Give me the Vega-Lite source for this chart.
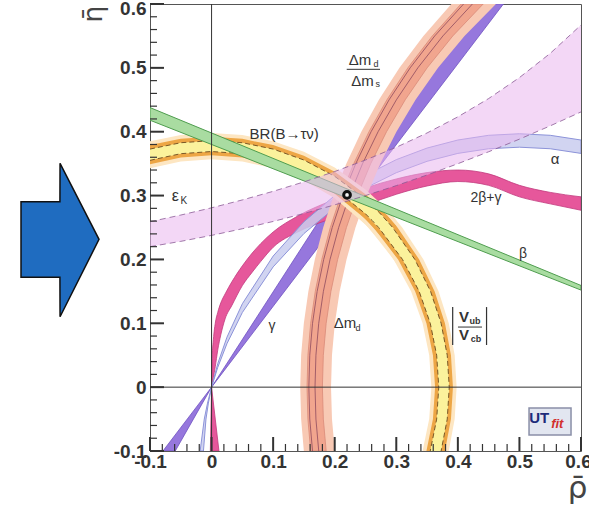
{
  "$schema": "https://vega.github.io/schema/vega-lite/v6.json",
  "autosize": {"type": "none"},
  "padding": {"left": 150, "top": 4, "right": 8, "bottom": 56},
  "width": 431,
  "height": 447,
  "background": "white",
  "config": {"view": {"stroke": "#555", "strokeWidth": 1}, "font": "Liberation Sans"},
  "data": {"values": [{}]},
  "datasets": {
    "arrow": [
      {"rho": -0.3095, "hi": 0.2903, "lo": 0.1719},
      {"rho": -0.2463, "hi": 0.2903, "lo": 0.1719},
      {"rho": -0.2461, "hi": 0.3505, "lo": 0.1102},
      {"rho": -0.1828, "hi": 0.2314, "lo": 0.2314}
    ],
    "gamma": [
      {"eta": -0.1, "a": -0.059, "b": -0.079},
      {"eta": 0, "a": 0, "b": 0},
      {"eta": 0.6, "a": 0.402, "b": 0.474}
    ],
    "tbg": [
      {"rho": 0, "hi": 0, "lo": 0},
      {"rho": 0.001, "hi": 0.045, "lo": 0.005},
      {"rho": 0.003, "hi": 0.075, "lo": 0.015},
      {"rho": 0.006, "hi": 0.1, "lo": 0.032},
      {"rho": 0.01, "hi": 0.117, "lo": 0.058},
      {"rho": 0.015, "hi": 0.132, "lo": 0.082},
      {"rho": 0.022, "hi": 0.146, "lo": 0.107},
      {"rho": 0.033, "hi": 0.165, "lo": 0.128},
      {"rho": 0.05, "hi": 0.19, "lo": 0.159},
      {"rho": 0.066, "hi": 0.21, "lo": 0.18},
      {"rho": 0.08, "hi": 0.225, "lo": 0.197},
      {"rho": 0.1, "hi": 0.243, "lo": 0.219},
      {"rho": 0.14, "hi": 0.268, "lo": 0.243},
      {"rho": 0.2, "hi": 0.294, "lo": 0.266},
      {"rho": 0.25, "hi": 0.312, "lo": 0.285},
      {"rho": 0.3, "hi": 0.326, "lo": 0.302},
      {"rho": 0.35, "hi": 0.336, "lo": 0.315},
      {"rho": 0.4, "hi": 0.34, "lo": 0.322},
      {"rho": 0.45, "hi": 0.334, "lo": 0.316},
      {"rho": 0.5, "hi": 0.316, "lo": 0.298},
      {"rho": 0.55, "hi": 0.305, "lo": 0.287},
      {"rho": 0.6, "hi": 0.298, "lo": 0.277}
    ],
    "tbgLow": [
      {"eta": -0.1, "a": -0.002, "b": 0.012},
      {"eta": -0.05, "a": -0.001, "b": 0.006},
      {"eta": 0, "a": 0, "b": 0}
    ],
    "alpha": [
      {"rho": 0, "hi": 0, "lo": 0},
      {"rho": 0.01, "hi": 0.03668, "lo": 0.0309},
      {"rho": 0.025, "hi": 0.07826, "lo": 0.06814},
      {"rho": 0.05, "hi": 0.13058, "lo": 0.11687},
      {"rho": 0.1, "hi": 0.20526, "lo": 0.18832},
      {"rho": 0.15, "hi": 0.25903, "lo": 0.24052},
      {"rho": 0.2, "hi": 0.30005, "lo": 0.28061},
      {"rho": 0.25, "hi": 0.33184, "lo": 0.31179},
      {"rho": 0.3, "hi": 0.35626, "lo": 0.33579},
      {"rho": 0.35, "hi": 0.37442, "lo": 0.35367},
      {"rho": 0.4, "hi": 0.38698, "lo": 0.36605},
      {"rho": 0.45, "hi": 0.39438, "lo": 0.37334},
      {"rho": 0.5, "hi": 0.39682, "lo": 0.37575},
      {"rho": 0.55, "hi": 0.39438, "lo": 0.37334},
      {"rho": 0.6, "hi": 0.38698, "lo": 0.36605}
    ],
    "alphaLow": [
      {"eta": -0.1, "a": -0.0132, "b": -0.0186},
      {"eta": -0.05, "a": -0.00908, "b": -0.01184},
      {"eta": -0.025, "a": -0.00518, "b": -0.00658},
      {"eta": 0, "a": 0, "b": 0}
    ],
    "dm": [
      {"eta": -0.1, "l1": 0.14986, "d1": 0.16094, "s1": 0.16396, "s2": 0.17403, "d2": 0.18612, "l2": 0.20023},
      {"eta": -0.05, "l1": 0.14546, "d1": 0.15648, "s1": 0.15949, "s2": 0.1695, "d2": 0.18153, "l2": 0.19555},
      {"eta": 0, "l1": 0.144, "d1": 0.155, "s1": 0.158, "s2": 0.168, "d2": 0.18, "l2": 0.194},
      {"eta": 0.05, "l1": 0.14546, "d1": 0.15648, "s1": 0.15949, "s2": 0.1695, "d2": 0.18153, "l2": 0.19555},
      {"eta": 0.1, "l1": 0.14986, "d1": 0.16094, "s1": 0.16396, "s2": 0.17403, "d2": 0.18612, "l2": 0.20023},
      {"eta": 0.15, "l1": 0.15724, "d1": 0.16842, "s1": 0.17147, "s2": 0.18163, "d2": 0.19383, "l2": 0.20808},
      {"eta": 0.2, "l1": 0.16769, "d1": 0.17901, "s1": 0.1821, "s2": 0.1924, "d2": 0.20476, "l2": 0.21921},
      {"eta": 0.25, "l1": 0.18132, "d1": 0.19283, "s1": 0.19597, "s2": 0.20645, "d2": 0.21904, "l2": 0.23375},
      {"eta": 0.3, "l1": 0.19829, "d1": 0.21005, "s1": 0.21326, "s2": 0.22397, "d2": 0.23685, "l2": 0.25191},
      {"eta": 0.35, "l1": 0.21882, "d1": 0.23089, "s1": 0.23419, "s2": 0.2452, "d2": 0.25845, "l2": 0.27396},
      {"eta": 0.4, "l1": 0.2432, "d1": 0.25567, "s1": 0.25908, "s2": 0.27047, "d2": 0.28418, "l2": 0.30026},
      {"eta": 0.45, "l1": 0.27183, "d1": 0.28479, "s1": 0.28833, "s2": 0.3002, "d2": 0.31451, "l2": 0.33132},
      {"eta": 0.5, "l1": 0.30521, "d1": 0.31881, "s1": 0.32253, "s2": 0.335, "d2": 0.35008, "l2": 0.36783},
      {"eta": 0.55, "l1": 0.34408, "d1": 0.35849, "s1": 0.36245, "s2": 0.37572, "d2": 0.39181, "l2": 0.41082},
      {"eta": 0.6, "l1": 0.38948, "d1": 0.405, "s1": 0.40927, "s2": 0.42361, "d2": 0.44107, "l2": 0.46182}
    ],
    "vubTop": [
      {"rho": -0.1, "g1": 0.34271, "o1": 0.34896, "y1": 0.35519, "y2": 0.37282, "o2": 0.37903, "g2": 0.38523},
      {"rho": -0.05, "g1": 0.35348, "o1": 0.35954, "y1": 0.3656, "y2": 0.38275, "o2": 0.3888, "g2": 0.39485},
      {"rho": 0, "g1": 0.357, "o1": 0.363, "y1": 0.369, "y2": 0.386, "o2": 0.392, "g2": 0.398},
      {"rho": 0.05, "g1": 0.35348, "o1": 0.35954, "y1": 0.3656, "y2": 0.38275, "o2": 0.3888, "g2": 0.39485},
      {"rho": 0.1, "g1": 0.34271, "o1": 0.34896, "y1": 0.35519, "y2": 0.37282, "o2": 0.37903, "g2": 0.38523},
      {"rho": 0.15, "g1": 0.32396, "o1": 0.33056, "y1": 0.33714, "y2": 0.35566, "o2": 0.36217, "g2": 0.36865},
      {"rho": 0.2, "g1": 0.29572, "o1": 0.30293, "y1": 0.3101, "y2": 0.33015, "o2": 0.33714, "g2": 0.3441},
      {"rho": 0.25, "g1": 0.25485, "o1": 0.26319, "y1": 0.27141, "y2": 0.2941, "o2": 0.30193, "g2": 0.30968},
      {"rho": 0.28, "g1": 0.22147, "o1": 0.23102, "y1": 0.24034, "y2": 0.2657, "o2": 0.27434, "g2": 0.28285},
      {"rho": 0.3, "g1": 0.19352, "o1": 0.20437, "y1": 0.21485, "y2": 0.24289, "o2": 0.25232, "g2": 0.26154}
    ],
    "vubRight": [
      {"eta": -0.1, "g1": 0.34271, "o1": 0.34896, "y1": 0.35519, "y2": 0.37282, "o2": 0.37903, "g2": 0.38523},
      {"eta": -0.05, "g1": 0.35348, "o1": 0.35954, "y1": 0.3656, "y2": 0.38275, "o2": 0.3888, "g2": 0.39485},
      {"eta": 0, "g1": 0.357, "o1": 0.363, "y1": 0.369, "y2": 0.386, "o2": 0.392, "g2": 0.398},
      {"eta": 0.05, "g1": 0.35348, "o1": 0.35954, "y1": 0.3656, "y2": 0.38275, "o2": 0.3888, "g2": 0.39485},
      {"eta": 0.1, "g1": 0.34271, "o1": 0.34896, "y1": 0.35519, "y2": 0.37282, "o2": 0.37903, "g2": 0.38523},
      {"eta": 0.15, "g1": 0.32396, "o1": 0.33056, "y1": 0.33714, "y2": 0.35566, "o2": 0.36217, "g2": 0.36865},
      {"eta": 0.2, "g1": 0.29572, "o1": 0.30293, "y1": 0.3101, "y2": 0.33015, "o2": 0.33714, "g2": 0.3441},
      {"eta": 0.25, "g1": 0.25485, "o1": 0.26319, "y1": 0.27141, "y2": 0.2941, "o2": 0.30193, "g2": 0.30968},
      {"eta": 0.27, "g1": 0.23356, "o1": 0.24263, "y1": 0.25152, "y2": 0.27586, "o2": 0.28419, "g2": 0.29241}
    ],
    "vubEdge": [
      {"ring": "in", "i": 1, "rho": -0.1, "eta": 0.35519},
      {"ring": "in", "i": 2, "rho": -0.05, "eta": 0.3656},
      {"ring": "in", "i": 3, "rho": 0, "eta": 0.369},
      {"ring": "in", "i": 4, "rho": 0.05, "eta": 0.3656},
      {"ring": "in", "i": 5, "rho": 0.1, "eta": 0.35519},
      {"ring": "in", "i": 6, "rho": 0.15, "eta": 0.33714},
      {"ring": "in", "i": 7, "rho": 0.2, "eta": 0.3101},
      {"ring": "in", "i": 8, "rho": 0.25, "eta": 0.27141},
      {"ring": "in", "i": 9, "rho": 0.26092, "eta": 0.26092},
      {"ring": "in", "i": 10, "rho": 0.27141, "eta": 0.25},
      {"ring": "in", "i": 11, "rho": 0.3101, "eta": 0.2},
      {"ring": "in", "i": 12, "rho": 0.33714, "eta": 0.15},
      {"ring": "in", "i": 13, "rho": 0.35519, "eta": 0.1},
      {"ring": "in", "i": 14, "rho": 0.3656, "eta": 0.05},
      {"ring": "in", "i": 15, "rho": 0.369, "eta": 0},
      {"ring": "in", "i": 16, "rho": 0.3656, "eta": -0.05},
      {"ring": "in", "i": 17, "rho": 0.35519, "eta": -0.1},
      {"ring": "out", "i": 1, "rho": -0.1, "eta": 0.37282},
      {"ring": "out", "i": 2, "rho": -0.05, "eta": 0.38275},
      {"ring": "out", "i": 3, "rho": 0, "eta": 0.386},
      {"ring": "out", "i": 4, "rho": 0.05, "eta": 0.38275},
      {"ring": "out", "i": 5, "rho": 0.1, "eta": 0.37282},
      {"ring": "out", "i": 6, "rho": 0.15, "eta": 0.35566},
      {"ring": "out", "i": 7, "rho": 0.2, "eta": 0.33015},
      {"ring": "out", "i": 8, "rho": 0.25, "eta": 0.2941},
      {"ring": "out", "i": 9, "rho": 0.27294, "eta": 0.27294},
      {"ring": "out", "i": 10, "rho": 0.2941, "eta": 0.25},
      {"ring": "out", "i": 11, "rho": 0.33015, "eta": 0.2},
      {"ring": "out", "i": 12, "rho": 0.35566, "eta": 0.15},
      {"ring": "out", "i": 13, "rho": 0.37282, "eta": 0.1},
      {"ring": "out", "i": 14, "rho": 0.38275, "eta": 0.05},
      {"ring": "out", "i": 15, "rho": 0.386, "eta": 0},
      {"ring": "out", "i": 16, "rho": 0.38275, "eta": -0.05},
      {"ring": "out", "i": 17, "rho": 0.37282, "eta": -0.1}
    ],
    "beta": [
      {"rho": -0.1, "hi": 0.4378, "lo": 0.418},
      {"rho": 0.6, "hi": 0.1592, "lo": 0.152}
    ],
    "epsK": [
      {"rho": -0.1, "lo": 0.22001, "hi": 0.25904},
      {"rho": -0.05, "lo": 0.22832, "hi": 0.2695},
      {"rho": 0, "lo": 0.23766, "hi": 0.28084},
      {"rho": 0.05, "lo": 0.24805, "hi": 0.29317},
      {"rho": 0.1, "lo": 0.25947, "hi": 0.30663},
      {"rho": 0.15, "lo": 0.27194, "hi": 0.32139},
      {"rho": 0.2, "lo": 0.28545, "hi": 0.33765},
      {"rho": 0.25, "lo": 0.3, "hi": 0.35564},
      {"rho": 0.3, "lo": 0.31559, "hi": 0.37565},
      {"rho": 0.35, "lo": 0.33222, "hi": 0.39804},
      {"rho": 0.4, "lo": 0.34989, "hi": 0.42328},
      {"rho": 0.45, "lo": 0.36861, "hi": 0.45194},
      {"rho": 0.5, "lo": 0.38836, "hi": 0.48475},
      {"rho": 0.55, "lo": 0.40916, "hi": 0.5227},
      {"rho": 0.6, "lo": 0.43099, "hi": 0.56711}
    ],
    "ticks": [
      {"v": -0.1, "major": 1}, {"v": -0.08, "major": 0}, {"v": -0.06, "major": 0}, {"v": -0.04, "major": 0}, {"v": -0.02, "major": 0},
      {"v": 0, "major": 1}, {"v": 0.02, "major": 0}, {"v": 0.04, "major": 0}, {"v": 0.06, "major": 0}, {"v": 0.08, "major": 0},
      {"v": 0.1, "major": 1}, {"v": 0.12, "major": 0}, {"v": 0.14, "major": 0}, {"v": 0.16, "major": 0}, {"v": 0.18, "major": 0},
      {"v": 0.2, "major": 1}, {"v": 0.22, "major": 0}, {"v": 0.24, "major": 0}, {"v": 0.26, "major": 0}, {"v": 0.28, "major": 0},
      {"v": 0.3, "major": 1}, {"v": 0.32, "major": 0}, {"v": 0.34, "major": 0}, {"v": 0.36, "major": 0}, {"v": 0.38, "major": 0},
      {"v": 0.4, "major": 1}, {"v": 0.42, "major": 0}, {"v": 0.44, "major": 0}, {"v": 0.46, "major": 0}, {"v": 0.48, "major": 0},
      {"v": 0.5, "major": 1}, {"v": 0.52, "major": 0}, {"v": 0.54, "major": 0}, {"v": 0.56, "major": 0}, {"v": 0.58, "major": 0},
      {"v": 0.6, "major": 1}
    ]
  },
  "layer": [
    {
      "data": {"name": "arrow"},
      "mark": {"type": "area", "fill": "#1f6cc0", "stroke": "#111", "strokeWidth": 1.5, "clip": false},
      "encoding": {
        "x": {
          "field": "rho", "type": "quantitative",
          "scale": {"domain": [-0.1, 0.6], "nice": false, "zero": false},
          "axis": {
            "values": [-0.1, 0, 0.1, 0.2, 0.3, 0.4, 0.5, 0.6],
            "ticks": false, "domain": false, "grid": false,
            "labelFont": "Liberation Sans", "labelFontWeight": "bold", "labelFontSize": 19, "labelColor": "#333",
            "labelPadding": 1, "labelOverlap": false, "labelFlush": false,
            "labelOffset": {"condition": {"test": "datum.value >= 0.59", "value": -3}, "value": 0},
            "labelExpr": "datum.value == 0 ? '0' : replace(format(datum.value, '.1f'), '−', '-')",
            "title": "ρ̄", "titleFont": "DejaVu Sans", "titleFontSize": 31, "titleFontWeight": "normal", "titleColor": "#444",
            "titleAlign": "right", "titleBaseline": "alphabetic", "titleX": 437, "titleY": 46
          }
        },
        "y": {
          "field": "hi", "type": "quantitative",
          "scale": {"domain": [-0.1, 0.6], "nice": false, "zero": false},
          "axis": {
            "values": [-0.1, 0, 0.1, 0.2, 0.3, 0.4, 0.5, 0.6],
            "ticks": false, "domain": false, "grid": false,
            "labelFont": "Liberation Sans", "labelFontWeight": "bold", "labelFontSize": 19, "labelColor": "#333",
            "labelPadding": 4, "labelOverlap": false, "labelFlush": false,
            "labelOffset": {"condition": {"test": "datum.value >= 0.59", "value": 4}, "value": 0},
            "labelExpr": "datum.value == 0 ? '0' : replace(format(datum.value, '.1f'), '−', '-')",
            "title": "η̄", "titleFont": "DejaVu Sans", "titleFontSize": 27, "titleFontWeight": "normal", "titleColor": "#444",
            "titleAngle": 270, "titleAlign": "right", "titleBaseline": "alphabetic", "titleX": -49, "titleY": 1
          }
        },
        "y2": {"field": "lo"}
      }
    },
    {
      "data": {"name": "gamma"},
      "mark": {"type": "area", "orient": "horizontal", "fill": "#9677dd", "stroke": "#6e52c2", "strokeWidth": 0.8, "clip": true},
      "encoding": {"y": {"field": "eta", "type": "quantitative"}, "x": {"field": "a", "type": "quantitative"}, "x2": {"field": "b"}}
    },
    {
      "data": {"name": "tbg"},
      "mark": {"type": "area", "interpolate": "monotone", "fill": "#e6579b", "stroke": "#c23a7d", "strokeWidth": 0.8, "clip": true},
      "encoding": {"x": {"field": "rho", "type": "quantitative"}, "y": {"field": "hi", "type": "quantitative"}, "y2": {"field": "lo"}}
    },
    {
      "data": {"name": "tbgLow"},
      "mark": {"type": "area", "orient": "horizontal", "fill": "#e6579b", "stroke": "#c23a7d", "strokeWidth": 0.8, "clip": true},
      "encoding": {"y": {"field": "eta", "type": "quantitative"}, "x": {"field": "a", "type": "quantitative"}, "x2": {"field": "b"}}
    },
    {
      "data": {"name": "alpha"},
      "mark": {"type": "area", "fill": "#c9cdee", "fillOpacity": 0.85, "stroke": "#8c93d9", "strokeWidth": 1, "clip": true},
      "encoding": {"x": {"field": "rho", "type": "quantitative"}, "y": {"field": "hi", "type": "quantitative"}, "y2": {"field": "lo"}}
    },
    {
      "data": {"name": "alphaLow"},
      "mark": {"type": "area", "orient": "horizontal", "fill": "#c9cdee", "fillOpacity": 0.85, "stroke": "#8c93d9", "strokeWidth": 1, "clip": true},
      "encoding": {"y": {"field": "eta", "type": "quantitative"}, "x": {"field": "a", "type": "quantitative"}, "x2": {"field": "b"}}
    },
    {
      "data": {"name": "dm"},
      "mark": {"type": "area", "orient": "horizontal", "fill": "#f8c9b4", "clip": true},
      "encoding": {"y": {"field": "eta", "type": "quantitative"}, "x": {"field": "l1", "type": "quantitative"}, "x2": {"field": "l2"}}
    },
    {
      "data": {"name": "dm"},
      "mark": {"type": "area", "orient": "horizontal", "fill": "#f1a58e", "stroke": "#d98a78", "strokeWidth": 0.8, "clip": true},
      "encoding": {"y": {"field": "eta", "type": "quantitative"}, "x": {"field": "d1", "type": "quantitative"}, "x2": {"field": "d2"}}
    },
    {
      "data": {"name": "dm"},
      "mark": {"type": "line", "stroke": "#8e4a5e", "strokeWidth": 0.8, "clip": true},
      "encoding": {"y": {"field": "eta", "type": "quantitative"}, "x": {"field": "s1", "type": "quantitative"}, "order": {"field": "eta"}}
    },
    {
      "data": {"name": "dm"},
      "mark": {"type": "line", "stroke": "#8e4a5e", "strokeWidth": 0.8, "clip": true},
      "encoding": {"y": {"field": "eta", "type": "quantitative"}, "x": {"field": "s2", "type": "quantitative"}, "order": {"field": "eta"}}
    },
    {
      "data": {"name": "vubTop"},
      "mark": {"type": "area", "fill": "#fde6c2", "clip": true},
      "encoding": {"x": {"field": "rho", "type": "quantitative"}, "y": {"field": "g1", "type": "quantitative"}, "y2": {"field": "g2"}}
    },
    {
      "data": {"name": "vubRight"},
      "mark": {"type": "area", "orient": "horizontal", "fill": "#fde6c2", "clip": true},
      "encoding": {"y": {"field": "eta", "type": "quantitative"}, "x": {"field": "g1", "type": "quantitative"}, "x2": {"field": "g2"}}
    },
    {
      "data": {"name": "vubTop"},
      "mark": {"type": "area", "fill": "#eda645", "clip": true},
      "encoding": {"x": {"field": "rho", "type": "quantitative"}, "y": {"field": "o1", "type": "quantitative"}, "y2": {"field": "o2"}}
    },
    {
      "data": {"name": "vubRight"},
      "mark": {"type": "area", "orient": "horizontal", "fill": "#eda645", "clip": true},
      "encoding": {"y": {"field": "eta", "type": "quantitative"}, "x": {"field": "o1", "type": "quantitative"}, "x2": {"field": "o2"}}
    },
    {
      "data": {"name": "vubTop"},
      "mark": {"type": "area", "fill": "#fbf29c", "clip": true},
      "encoding": {"x": {"field": "rho", "type": "quantitative"}, "y": {"field": "y1", "type": "quantitative"}, "y2": {"field": "y2"}}
    },
    {
      "data": {"name": "vubRight"},
      "mark": {"type": "area", "orient": "horizontal", "fill": "#fbf29c", "clip": true},
      "encoding": {"y": {"field": "eta", "type": "quantitative"}, "x": {"field": "y1", "type": "quantitative"}, "x2": {"field": "y2"}}
    },
    {
      "data": {"name": "vubEdge"},
      "mark": {"type": "line", "stroke": "#6b4a1e", "strokeWidth": 0.9, "strokeDash": [5, 3], "clip": true},
      "encoding": {
        "x": {"field": "rho", "type": "quantitative"},
        "y": {"field": "eta", "type": "quantitative"},
        "detail": {"field": "ring"},
        "order": {"field": "i"}
      }
    },
    {
      "data": {"name": "beta"},
      "mark": {"type": "area", "fill": "#a9dca1", "stroke": "#4f9d4f", "strokeWidth": 1, "clip": true},
      "encoding": {"x": {"field": "rho", "type": "quantitative"}, "y": {"field": "hi", "type": "quantitative"}, "y2": {"field": "lo"}}
    },
    {
      "data": {"name": "epsK"},
      "mark": {"type": "area", "fill": "#eab6ee", "fillOpacity": 0.55, "clip": true},
      "encoding": {"x": {"field": "rho", "type": "quantitative"}, "y": {"field": "hi", "type": "quantitative"}, "y2": {"field": "lo"}}
    },
    {
      "data": {"name": "epsK"},
      "mark": {"type": "line", "stroke": "#8a5a96", "strokeWidth": 0.8, "strokeDash": [6, 4], "clip": true},
      "encoding": {"x": {"field": "rho", "type": "quantitative"}, "y": {"field": "hi", "type": "quantitative"}}
    },
    {
      "data": {"name": "epsK"},
      "mark": {"type": "line", "stroke": "#8a5a96", "strokeWidth": 0.8, "strokeDash": [6, 4], "clip": true},
      "encoding": {"x": {"field": "rho", "type": "quantitative"}, "y": {"field": "lo", "type": "quantitative"}}
    },
    {
      "mark": {"type": "rule", "stroke": "#333", "strokeWidth": 1},
      "encoding": {"x": {"datum": 0}}
    },
    {
      "mark": {"type": "rule", "stroke": "#333", "strokeWidth": 1},
      "encoding": {"y": {"datum": 0}}
    },
    {
      "data": {"name": "ticks"},
      "transform": [{"filter": "datum.major == 1"}],
      "mark": {"type": "rule", "stroke": "#333", "strokeWidth": 2},
      "encoding": {"x": {"field": "v", "type": "quantitative"}, "y": {"datum": -0.1}, "y2": {"datum": -0.0781}}
    },
    {
      "data": {"name": "ticks"},
      "transform": [{"filter": "datum.major == 0"}],
      "mark": {"type": "rule", "stroke": "#333", "strokeWidth": 1.2},
      "encoding": {"x": {"field": "v", "type": "quantitative"}, "y": {"datum": -0.1}, "y2": {"datum": -0.089}}
    },
    {
      "data": {"name": "ticks"},
      "transform": [{"filter": "datum.major == 1"}],
      "mark": {"type": "rule", "stroke": "#333", "strokeWidth": 2},
      "encoding": {"y": {"field": "v", "type": "quantitative"}, "x": {"datum": -0.1}, "x2": {"datum": -0.0773}}
    },
    {
      "data": {"name": "ticks"},
      "transform": [{"filter": "datum.major == 0"}],
      "mark": {"type": "rule", "stroke": "#333", "strokeWidth": 1.2},
      "encoding": {"y": {"field": "v", "type": "quantitative"}, "x": {"datum": -0.1}, "x2": {"datum": -0.0886}}
    },
    {
      "mark": {"type": "text", "text": "BR(B→τν)", "fontSize": 15, "fill": "#333"},
      "encoding": {"x": {"datum": 0.118}, "y": {"datum": 0.396}}
    },
    {
      "mark": {"type": "text", "text": "ε", "fontSize": 16, "fill": "#333"},
      "encoding": {"x": {"datum": -0.059}, "y": {"datum": 0.3}}
    },
    {
      "mark": {"type": "text", "text": "K", "fontSize": 10, "fill": "#333"},
      "encoding": {"x": {"datum": -0.045}, "y": {"datum": 0.292}}
    },
    {
      "mark": {"type": "text", "text": "Δm", "fontSize": 15, "fill": "#333"},
      "encoding": {"x": {"datum": 0.241}, "y": {"datum": 0.512}}
    },
    {
      "mark": {"type": "text", "text": "d", "fontSize": 9, "fill": "#333"},
      "encoding": {"x": {"datum": 0.267}, "y": {"datum": 0.506}}
    },
    {
      "mark": {"type": "rule", "stroke": "#333", "strokeWidth": 1},
      "encoding": {"x": {"datum": 0.2195}, "x2": {"datum": 0.2736}, "y": {"datum": 0.4977}}
    },
    {
      "mark": {"type": "text", "text": "Δm", "fontSize": 15, "fill": "#333"},
      "encoding": {"x": {"datum": 0.2452}, "y": {"datum": 0.4796}}
    },
    {
      "mark": {"type": "text", "text": "s", "fontSize": 9, "fill": "#333"},
      "encoding": {"x": {"datum": 0.27}, "y": {"datum": 0.474}}
    },
    {
      "mark": {"type": "text", "text": "α", "fontSize": 15, "fill": "#333"},
      "encoding": {"x": {"datum": 0.5578}, "y": {"datum": 0.357}}
    },
    {
      "mark": {"type": "text", "text": "2β+γ", "fontSize": 14, "fill": "#333"},
      "encoding": {"x": {"datum": 0.4457}, "y": {"datum": 0.296}}
    },
    {
      "mark": {"type": "text", "text": "β", "fontSize": 14, "fill": "#333"},
      "encoding": {"x": {"datum": 0.5058}, "y": {"datum": 0.208}}
    },
    {
      "mark": {"type": "text", "text": "γ", "fontSize": 14, "fill": "#333"},
      "encoding": {"x": {"datum": 0.0981}, "y": {"datum": 0.0957}}
    },
    {
      "mark": {"type": "text", "text": "Δm", "fontSize": 15, "fill": "#333"},
      "encoding": {"x": {"datum": 0.2167}, "y": {"datum": 0.1004}}
    },
    {
      "mark": {"type": "text", "text": "d", "fontSize": 9, "fill": "#333"},
      "encoding": {"x": {"datum": 0.2378}, "y": {"datum": 0.0925}}
    },
    {
      "mark": {"type": "rule", "stroke": "#333", "strokeWidth": 1.2},
      "encoding": {"x": {"datum": 0.3916}, "y": {"datum": 0.066}, "y2": {"datum": 0.1254}}
    },
    {
      "mark": {"type": "rule", "stroke": "#333", "strokeWidth": 1.2},
      "encoding": {"x": {"datum": 0.4466}, "y": {"datum": 0.066}, "y2": {"datum": 0.1254}}
    },
    {
      "mark": {"type": "rule", "stroke": "#333", "strokeWidth": 1},
      "encoding": {"x": {"datum": 0.4002}, "x2": {"datum": 0.4392}, "y": {"datum": 0.0941}}
    },
    {
      "mark": {"type": "text", "text": "V", "fontSize": 15, "fontWeight": "bold", "fill": "#333"},
      "encoding": {"x": {"datum": 0.41}, "y": {"datum": 0.1097}}
    },
    {
      "mark": {"type": "text", "text": "ub", "fontSize": 9, "fontWeight": "bold", "fill": "#333"},
      "encoding": {"x": {"datum": 0.4279}, "y": {"datum": 0.1034}}
    },
    {
      "mark": {"type": "text", "text": "V", "fontSize": 15, "fontWeight": "bold", "fill": "#333"},
      "encoding": {"x": {"datum": 0.41}, "y": {"datum": 0.0816}}
    },
    {
      "mark": {"type": "text", "text": "cb", "fontSize": 9, "fontWeight": "bold", "fill": "#333"},
      "encoding": {"x": {"datum": 0.4295}, "y": {"datum": 0.0753}}
    },
    {
      "mark": {"type": "rect", "fill": "#e2e6f0", "stroke": "#8a8fa8", "strokeWidth": 1.5},
      "encoding": {"x": {"datum": 0.5156}, "x2": {"datum": 0.5838}, "y": {"datum": -0.0327}, "y2": {"datum": -0.075}}
    },
    {
      "mark": {"type": "text", "text": "UT", "fontSize": 15, "fontWeight": "bold", "fill": "#1d2b7a"},
      "encoding": {"x": {"datum": 0.532}, "y": {"datum": -0.049}}
    },
    {
      "mark": {"type": "text", "text": "fit", "fontSize": 13, "fontWeight": "bold", "fontStyle": "italic", "fill": "#d2302c"},
      "encoding": {"x": {"datum": 0.5615}, "y": {"datum": -0.0585}}
    },
    {
      "mark": {"type": "point", "shape": "circle", "filled": true, "fill": "#f4f4f4", "stroke": "#111", "strokeWidth": 3, "size": 45, "opacity": 1},
      "encoding": {"x": {"datum": 0.22}, "y": {"datum": 0.301}}
    }
  ]
}
